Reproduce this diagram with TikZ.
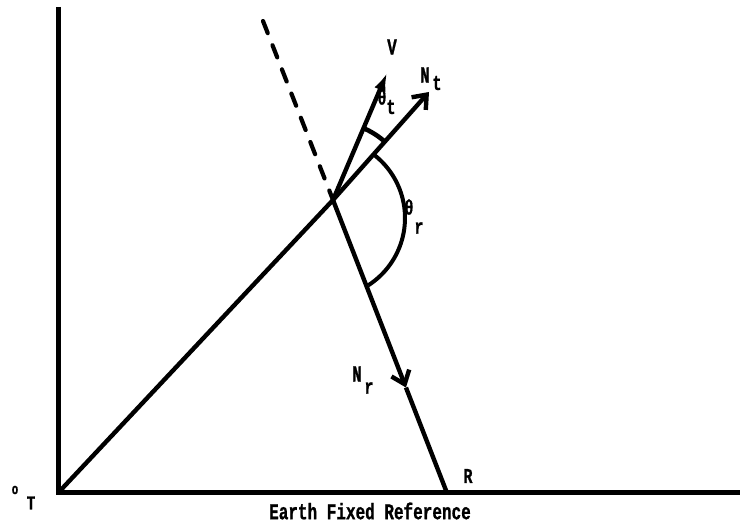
\documentclass[tikz,border=0pt]{standalone}
\usepackage{fontspec}
\newfontfamily\twfont[FakeBold=1.2]{Liberation Mono}
\usetikzlibrary{arrows.meta,calc}
\newcommand{\lbtext}[2][16]{\scalebox{1}[1.4]{\twfont\bfseries\fontsize{#1}{#1}\selectfont #2}}
\begin{document}
\begin{tikzpicture}[x=1pt,y=-1pt,line width=4.4pt,
  lab/.style={inner sep=0pt,anchor=center},
  barb/.style={-{Straight Barb[length=12pt,width=19pt]}},
  filltip/.style={-{Latex[length=18pt,width=12pt]}}]
\useasboundingbox (0,0) rectangle (742,526);
\coordinate (O) at (58,493);
\coordinate (Ytop) at (58,7);
\coordinate (Xend) at (740,493);
\coordinate (P) at (333,200);
\coordinate (Nt) at (429,92);
\coordinate (V) at (387,73);
\coordinate (R) at (447,493);
\coordinate (M) at ($(P)!0.64!(R)$);
\coordinate (D) at (263,21);
% axes
\draw[line width=5pt,line join=miter] (Ytop) -- (O) -- (Xend);
% lines
\draw (O) -- (P);
\draw[barb] (P) -- (Nt);
\draw[filltip] (P) -- (V);
\draw[dash pattern=on 13pt off 13pt,line cap=round,line width=4.2pt] (D) -- (P);
\draw[barb] (P) -- (M);
\draw (M) -- (R);
% angle arcs
\draw[line width=4pt] plot[domain=-52.7:57.3,samples=50] ({325+80*cos(\x)},{218+80*sin(\x)});
\draw[line width=4.6pt] plot[domain=-67:-48.4,samples=20] ({333+78*cos(\x)},{200+78*sin(\x)});
% labels
\node[lab] (lV) at (392,47) {\lbtext{V}};
\node[lab] (lNt) at (425,75) {\lbtext{N}};
\node[lab] (lNts) at (437,83) {\lbtext[15]{t}};
\node[lab] (lth) at (382,97) {\lbtext[15]{θ}};
\node[lab] (lths) at (391,107) {\lbtext[15]{t}};
\node[lab] (lthr) at (409,207) {\lbtext[15]{θ}};
\node[lab] (lthrs) at (419,228) {\lbtext[15]{r}};
\node[lab] (lNr) at (357,374) {\lbtext{N}};
\node[lab] (lNrs) at (369,388) {\lbtext[15]{r}};
\node[lab] (lR) at (468,476) {\lbtext[15]{R}};
\node[lab] (lo) at (15,490) {\lbtext[11]{o}};
\node[lab] (lT) at (31,503) {\lbtext[14]{T}};
\node[lab] (lE) at (370,511) {\lbtext{Earth Fixed Reference}};
\end{tikzpicture}
\end{document}
